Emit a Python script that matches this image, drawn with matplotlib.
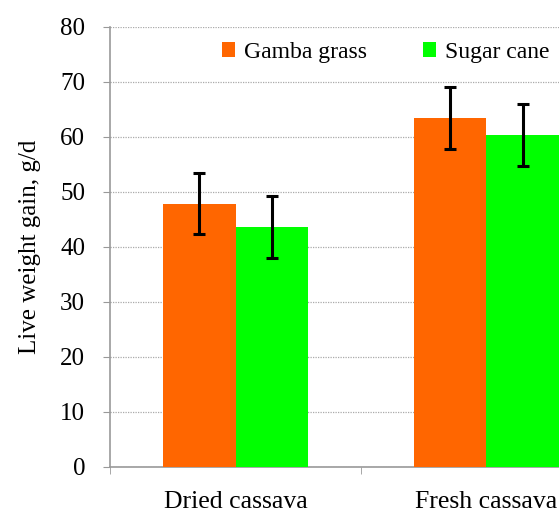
import matplotlib
matplotlib.use('Agg')
import matplotlib.pyplot as plt
import numpy as np

plt.rcParams.update({
    'font.family': 'Liberation Serif',
    'font.size': 18,
})

# Data
groups = ['Dried cassava', 'Fresh cassava']
series = ['Gamba grass', 'Sugar cane']
gamba = [47.9, 63.4]
gamba_err = [5.5, 5.6]
sugar = [43.6, 60.4]
sugar_err = [5.6, 5.6]
colors = ['#FF6600', '#00FF00']

x = np.arange(len(groups))
width = 0.287

fig = plt.figure(figsize=(5.59, 5.13), dpi=100)
ax = fig.add_axes([0.1968, 0.0897, 0.898, 0.8577])

err_kw = dict(ecolor='black', elinewidth=2.2, capsize=4.5, capthick=2.2)
ax.bar(x - width/2, gamba, width, yerr=gamba_err, color=colors[0], label=series[0],
       error_kw=err_kw, zorder=3)
ax.bar(x + width/2, sugar, width, yerr=sugar_err, color=colors[1], label=series[1],
       error_kw=err_kw, zorder=3)

ax.set_xlim(-0.5, 1.5)
ax.set_ylim(0, 80)
ax.set_yticks(np.arange(0, 81, 10))
ax.yaxis.grid(True, linestyle=(0, (1, 1)), color='#aaaaaa', linewidth=0.9, zorder=0)
ax.set_axisbelow(True)

ax.set_xticks(x)
ax.set_xticklabels(groups, fontsize=18.5)
ax.set_xticks([-0.5, 0.5, 1.5], minor=True)
ax.tick_params(axis='x', which='major', length=0, pad=17)
ax.tick_params(axis='x', which='minor', length=5, color='#999999', direction='out')
ax.tick_params(axis='y', length=5, color='#999999', direction='out', pad=13)

for side in ['top', 'right']:
    ax.spines[side].set_visible(False)
for side in ['left', 'bottom']:
    ax.spines[side].set_color('#999999')
    ax.spines[side].set_linewidth(1.2)

ax.set_ylabel('Live weight gain, g/d', labelpad=14)

ax.legend(loc='center', bbox_to_anchor=(0.69, 0.898), bbox_transform=fig.transFigure,
          ncol=2, frameon=False, fontsize=17, handlelength=0.55, handleheight=0.55,
          handletextpad=0.35, columnspacing=2.4)

plt.savefig('out.png', dpi=100)
plt.close()
